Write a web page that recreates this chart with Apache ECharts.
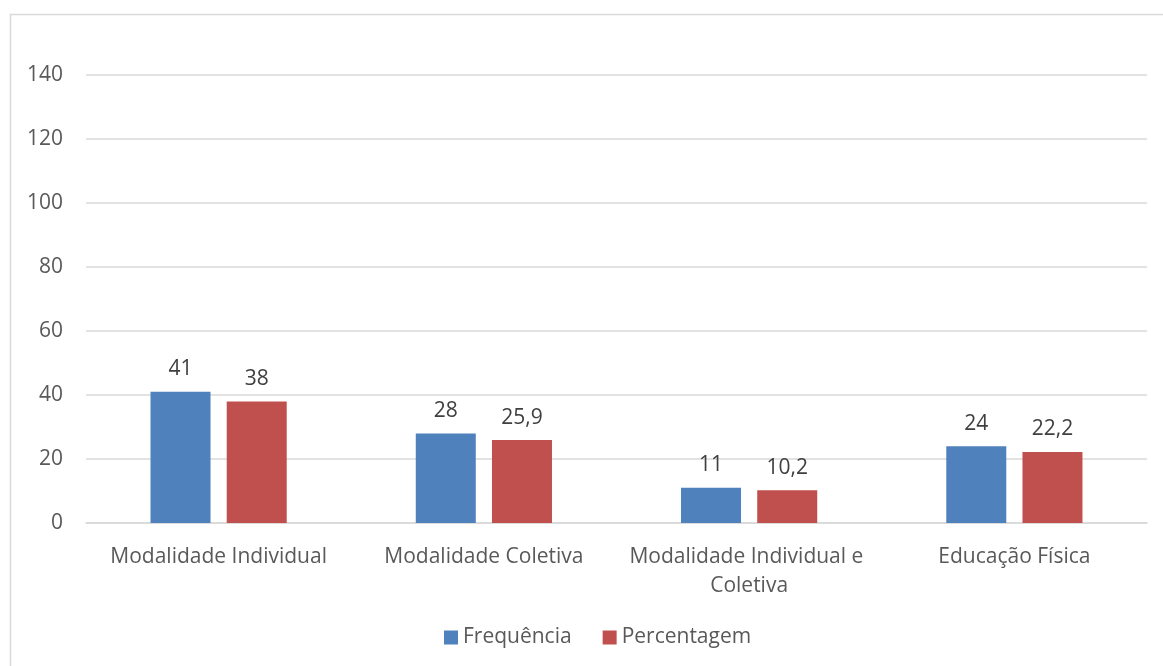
<!DOCTYPE html>
<html>
<head>
<meta charset="utf-8">
<script src="https://cdn.jsdelivr.net/npm/echarts@6/dist/echarts.min.js"></script>
<style>
    html, body { margin: 0; padding: 0; background: #fff; }
    #chart { width: 1163px; height: 666px; }
</style>
</head>
<body>
<div id="chart"></div>
<script>
// dados do gráfico
var categorias = ['Modalidade Individual', 'Modalidade Coletiva', 'Modalidade Individual e Coletiva', 'Educação Física'];
var frequencia = [41, 28, 11, 24];
var percentagem = [38, 25.9, 10.2, 22.2];
var nomesSeries = ['Frequência', 'Percentagem'];

function formatarValor(p) {
    return String(p.value).replace('.', ',');
}

var chart = echarts.init(document.getElementById('chart'));
var fonte = '"Open Sans", sans-serif';

var option = {
    animation: false,
    textStyle: { fontFamily: fonte },
    graphic: [{
        type: 'rect',
        shape: { x: 10.5, y: 14.5, width: 1300, height: 800 },
        style: { fill: 'none', stroke: '#d9d9d9', lineWidth: 1.5 },
        silent: true
    }],
    legend: {
        bottom: 13,
        left: 439,
        itemWidth: 14,
        itemHeight: 14,
        itemGap: 31,
        icon: 'rect',
        textStyle: { color: '#595959', fontSize: 21, fontFamily: fonte },
        data: nomesSeries
    },
    grid: {
        left: 86,
        right: 16,
        top: 75,
        bottom: 143
    },
    xAxis: {
        type: 'category',
        data: categorias,
        axisTick: { show: false },
        axisLine: { lineStyle: { color: '#d9d9d9', width: 1.5 } },
        axisLabel: {
            color: '#595959',
            fontSize: 21,
            fontFamily: fonte,
            margin: 20,
            width: 255,
            overflow: 'break',
            lineHeight: 29,
            interval: 0
        }
    },
    yAxis: {
        type: 'value',
        min: 0,
        max: 140,
        interval: 20,
        axisLine: { show: false },
        axisTick: { show: false },
        axisLabel: { color: '#595959', fontSize: 21, fontFamily: fonte, margin: 23 },
        splitLine: { lineStyle: { color: '#d9d9d9', width: 1.5 } }
    },
    series: [{
        name: nomesSeries[0],
        type: 'bar',
        data: frequencia,
        barWidth: 60,
        barGap: '27%',
        itemStyle: { color: '#4f81bd' },
        label: {
            show: true, position: 'top', distance: 12,
            color: '#404040', fontSize: 21, fontFamily: fonte,
            formatter: formatarValor
        }
    }, {
        name: nomesSeries[1],
        type: 'bar',
        data: percentagem,
        barWidth: 60,
        itemStyle: { color: '#c0504d' },
        label: {
            show: true, position: 'top', distance: 12,
            color: '#404040', fontSize: 21, fontFamily: fonte,
            formatter: formatarValor
        }
    }]
};

chart.setOption(option);
</script>
</body>
</html>
